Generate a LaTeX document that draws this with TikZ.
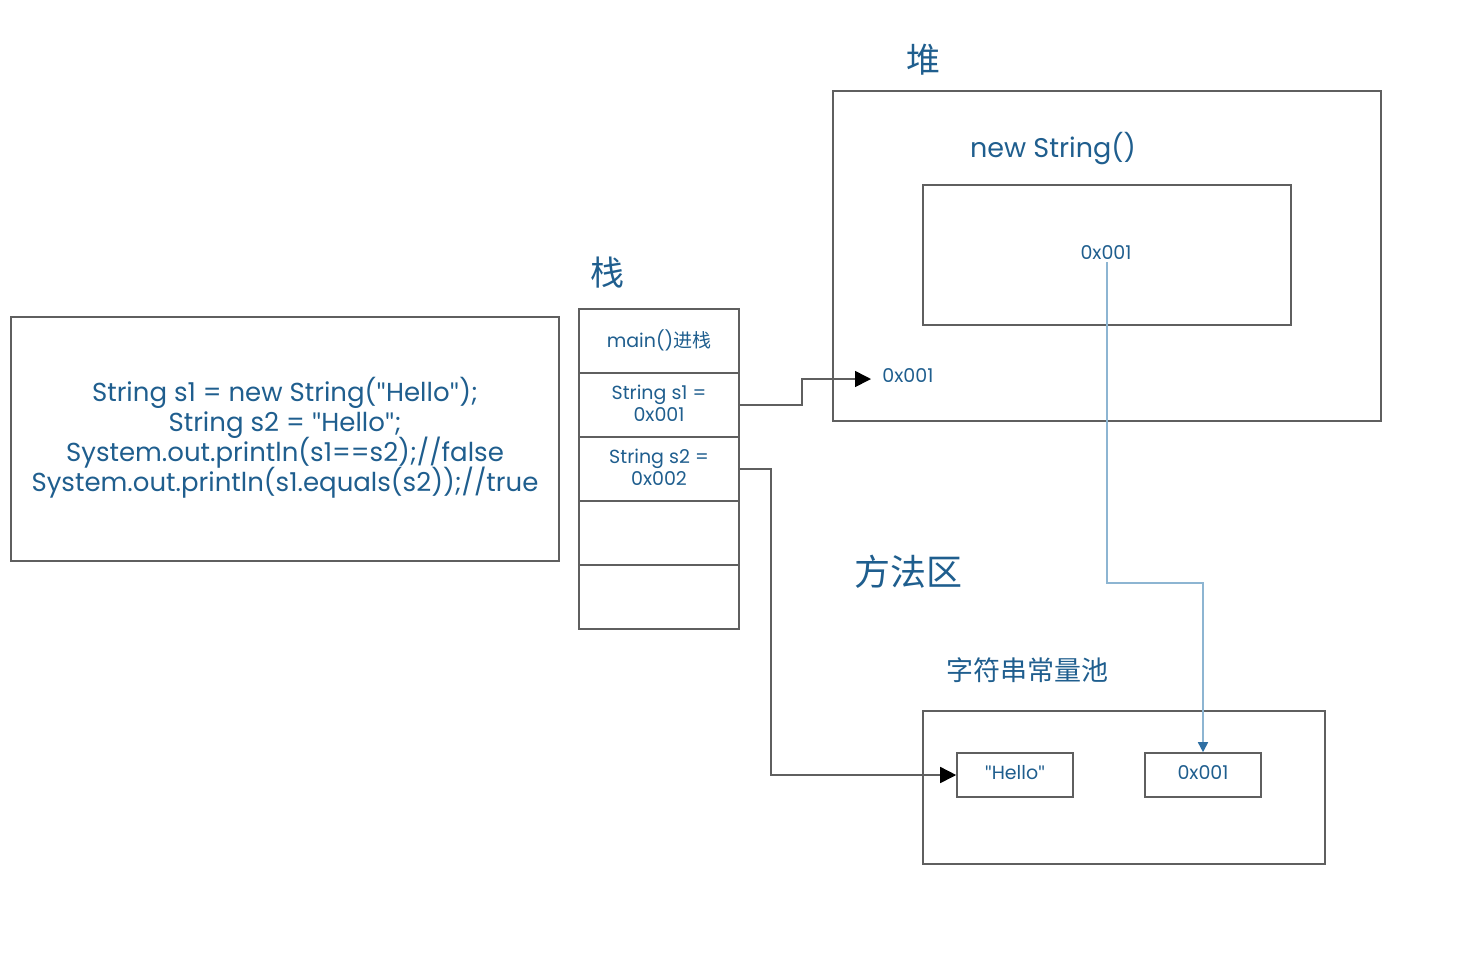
\documentclass[tikz,border=0pt]{standalone}
\usepackage{fontspec}
\setmainfont{Poppins}
\newfontfamily\cjk{Noto Sans CJK SC}
\newfontfamily\qfont{Lato}
\newcommand{\qq}{{\qfont"}}
\usetikzlibrary{arrows.meta,positioning,calc}
\definecolor{txt}{HTML}{1F5E8E}
\definecolor{ln}{HTML}{5F5F5F}
\definecolor{bl}{HTML}{8DB5D2}
\definecolor{bla}{HTML}{2E6FA3}
\tikzset{
  box/.style={draw=ln, line width=0.8pt, inner sep=0pt},
  lbl/.style={text=txt, inner sep=0pt, align=center},
  codeline/.style={text=txt, inner sep=0pt, anchor=base, font=\fontsize{13}{15}\selectfont},
  conn/.style={draw=ln, line width=0.8pt, -{Triangle[length=8pt,width=8pt,fill=black,color=black]}},
  bconn/.style={draw=bl, line width=0.8pt, -{Triangle[length=5pt,width=5pt,fill=bla,color=bla]}},
}
\begin{document}
\begin{tikzpicture}[x=0.5pt,y=-0.5pt]
\useasboundingbox (0,0) rectangle (1476,954);
% code box
\node[box, minimum width=274pt, minimum height=122pt] (code) at (285,439) {};
\node[codeline] (c1) at (285,401) {String s1 = new String(\qq Hello\qq);};
\node[codeline] (c2) at (285,431) {String s2 = \qq Hello\qq;};
\node[codeline] (c3) at (285,461) {System.out.println(s1==s2);//false};
\node[codeline] (c4) at (285,491) {System.out.println(s1.equals(s2));//true};
% stack
\node[lbl, font=\cjk\fontsize{17}{19}\selectfont] (stacklbl) at (607,273) {栈};
\foreach \n/\y in {r1/341,r2/405,r3/469,r4/533,r5/597}{
  \node[box, minimum width=80pt, minimum height=32pt] (\n) at (659,\y) {};
}
\node[lbl, font=\fontsize{9.5}{11}\selectfont] (t1) at (659,340) {main()\cjk 进栈};
\node[lbl, font=\fontsize{9.5}{11}\selectfont] (t2) at (659,403) {String s1 =\\0x001};
\node[lbl, font=\fontsize{9.5}{11}\selectfont] (t3) at (659,467) {String s2 =\\0x002};
% heap
\node[lbl, font=\cjk\fontsize{17}{19}\selectfont] (heaplbl) at (923,60) {堆};
\node[box, minimum width=274pt, minimum height=165pt] (heap) at (1107,256) {};
\node[lbl, font=\fontsize{13.5}{15}\selectfont] (newstr) at (1053,149) {new String()};
\node[box, minimum width=184pt, minimum height=70pt] (inner) at (1107,255) {};
\node[lbl, font=\fontsize{9.5}{11}\selectfont] (innertxt) at (1106,253) {0x001};
\node[lbl, font=\fontsize{9.5}{11}\selectfont, anchor=west] (heapaddr) at (882,376) {0x001};
% method area
\node[lbl, font=\cjk\fontsize{18}{20}\selectfont] (methlbl) at (908,572) {方法区};
\node[lbl, font=\cjk\fontsize{13.5}{15}\selectfont] (poollbl) at (1027,670) {字符串常量池};
\node[box, minimum width=201pt, minimum height=76.5pt] (pool) at (1124,787.5) {};
\node[box, minimum width=58pt, minimum height=22pt] (hello) at (1015,775) {};
\node[lbl, font=\fontsize{9.5}{11}\selectfont] (hellotxt) at (1015,773) {\qq Hello\qq};
\node[box, minimum width=58pt, minimum height=22pt] (addr) at (1203,775) {};
\node[lbl, font=\fontsize{9.5}{11}\selectfont] (addrtxt) at (1203,773) {0x001};
% connectors
\coordinate (tipA) at (871,379);
\draw[conn] (r2.east |- 0,405) -- (802,405) -- (802,379) -- (tipA);
\draw[conn] (r3.east |- 0,469) -- (771,469) -- (771,775) -- (hello.west);
\coordinate (bstart) at (1107,262);
\draw[bconn] (bstart) -- (1107,583) -- (1203,583) -- (addr.north);
\end{tikzpicture}
\end{document}
